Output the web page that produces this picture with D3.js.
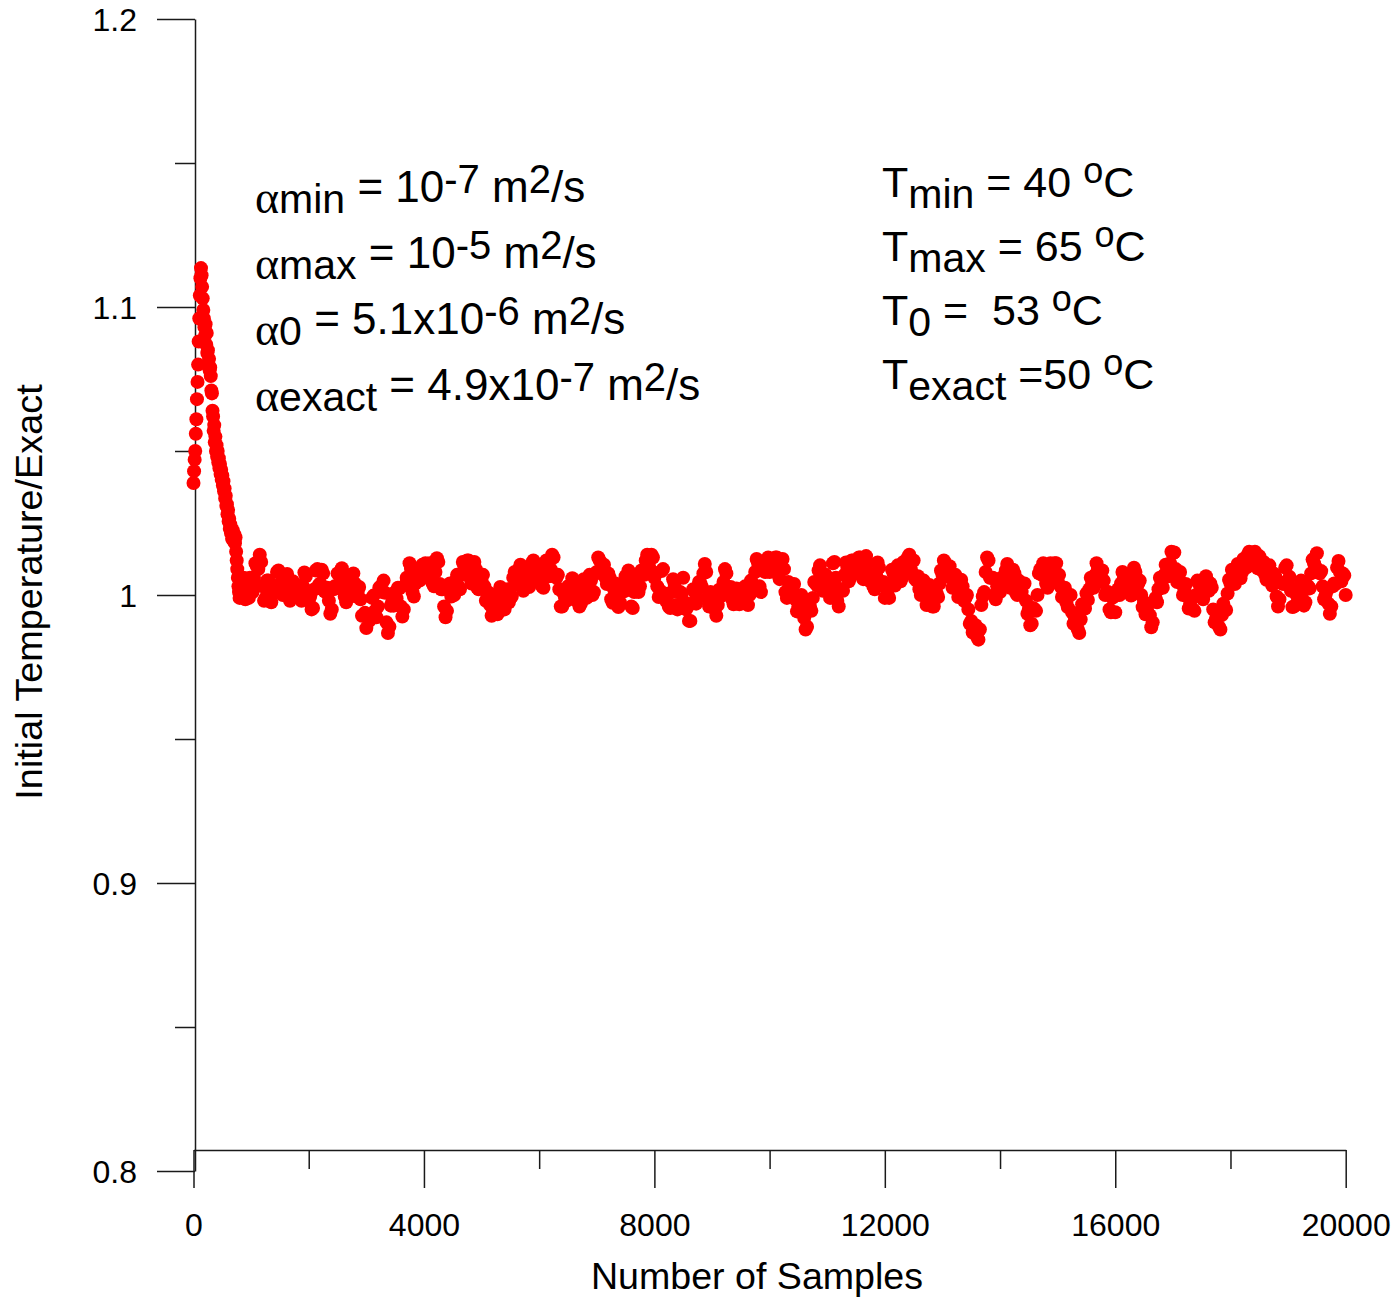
<!DOCTYPE html>
<html>
<head>
<meta charset="utf-8">
<script src="https://cdn.jsdelivr.net/npm/d3@7"></script>
<style>
  body { margin: 0; background: #fff; }
  text { font-family: "Liberation Sans", Arial, sans-serif; fill: #000; }
</style>
</head>
<body>
<svg id="chart" width="1399" height="1299"></svg>
<script>
// Sample spacing: dense recording during the first 1000 samples, then every 25 samples
const earlyStep = 10;
const lateStart = 1000;
const lateStep = 25;

// Initial temperature / exact, samples 0 .. 990
const earlyValues = [
  1.0389,1.0430,1.0470,1.0500,1.0560,1.0610,1.0680,1.0740,1.0800,1.0880,
  1.0960,1.1040,1.1100,1.1135,1.1110,1.1070,1.1030,1.0990,1.0960,1.0930,
  1.0900,1.0940,1.0870,1.0910,1.0840,1.0850,1.0800,1.0820,1.0780,1.0790,
  1.0760,1.0710,1.0700,1.0640,1.0620,1.0570,1.0590,1.0530,1.0550,1.0500,
  1.0520,1.0480,1.0500,1.0460,1.0475,1.0440,1.0455,1.0420,1.0435,1.0400,
  1.0415,1.0380,1.0395,1.0360,1.0370,1.0335,1.0345,1.0310,1.0315,1.0280,
  1.0295,1.0255,1.0265,1.0230,1.0245,1.0215,1.0230,1.0195,1.0225,1.0190,
  1.0190,1.0210,1.0180,1.0200,1.0150,1.0120,1.0090,1.0060,1.0030,1.0010,
  0.9990,1.0020,1.0050,1.0030,1.0010,1.0040,1.0020,1.0060,1.0030,1.0000,
  0.9985,1.0010,1.0040,1.0020,1.0050,1.0010,0.9990,1.0030,1.0060,1.0020
];

// Initial temperature / exact, samples 1000 .. 20000
const lateValues = [
  1.0020,1.0010,1.0060,1.0110,1.0100,1.0090,1.0140,1.0115,1.0030,0.9980,0.9990,1.0050,1.0050,0.9985,0.9975,1.0025,1.0010,1.0015,1.0080,1.0085,
  1.0030,1.0045,1.0000,1.0005,1.0065,1.0073,1.0020,0.9980,0.9995,1.0048,1.0040,0.9995,1.0010,1.0030,0.9990,0.9980,1.0030,1.0078,1.0065,0.9995,
  0.9980,0.9995,0.9950,0.9955,1.0020,1.0085,1.0090,1.0035,1.0040,1.0088,1.0075,1.0013,1.0010,1.0025,0.9980,0.9935,0.9950,1.0020,1.0030,1.0023,
  1.0075,1.0033,1.0050,1.0093,1.0075,0.9995,0.9975,1.0023,1.0010,1.0000,1.0050,1.0075,1.0040,0.9995,1.0010,1.0028,0.9985,0.9928,0.9930,0.9938,
  0.9885,0.9928,0.9910,0.9920,0.9990,0.9998,0.9945,0.9923,0.9960,1.0025,1.0030,1.0010,1.0050,1.0008,0.9905,0.9868,0.9890,0.9963,0.9975,0.9963,
  1.0010,0.9988,1.0025,1.0023,0.9960,0.9925,0.9950,1.0035,1.0060,1.0055,1.0110,1.0090,1.0010,0.9995,1.0040,1.0085,1.0070,1.0050,1.0090,1.0105,
  1.0060,1.0110,1.0100,1.0075,1.0110,1.0105,1.0040,1.0030,1.0080,1.0128,1.0115,1.0038,1.0020,1.0020,0.9960,0.9923,0.9945,1.0023,1.0040,0.9995,
  1.0010,1.0000,1.0050,1.0070,1.0030,1.0020,1.0070,1.0115,1.0100,1.0080,1.0120,1.0120,1.0060,1.0040,1.0080,1.0115,1.0090,1.0025,1.0020,1.0065,
  1.0050,1.0070,1.0030,0.9980,0.9990,1.0008,0.9965,0.9928,0.9950,0.9975,0.9940,0.9933,0.9985,1.0028,1.0010,0.9950,0.9950,1.0015,1.0020,0.9975,
  0.9990,0.9995,1.0060,1.0080,1.0040,1.0035,1.0090,1.0105,1.0060,1.0015,1.0030,1.0083,1.0075,1.0028,1.0040,1.0110,1.0120,1.0070,1.0080,1.0103,
  1.0065,1.0078,1.0030,1.0025,1.0080,1.0120,1.0100,1.0065,1.0090,1.0140,1.0130,1.0065,1.0060,1.0070,1.0020,0.9960,0.9960,1.0005,0.9990,0.9980,
  1.0030,0.9993,1.0015,1.0058,1.0040,0.9983,0.9985,1.0003,0.9960,0.9970,1.0040,1.0055,1.0010,0.9990,1.0030,1.0070,1.0050,1.0000,1.0010,1.0075,
  1.0080,1.0130,1.0120,1.0075,1.0090,1.0105,1.0060,1.0038,1.0075,1.0060,0.9985,0.9973,1.0020,1.0040,1.0000,0.9958,0.9975,1.0028,1.0020,1.0013,
  1.0065,1.0045,1.0085,1.0053,0.9960,0.9955,1.0010,1.0060,1.0050,1.0010,1.0030,1.0085,1.0080,1.0070,1.0120,1.0140,1.0100,1.0090,1.0140,1.0130,
  1.0060,1.0075,1.0030,0.9993,1.0015,1.0083,1.0090,1.0005,0.9980,1.0000,0.9960,0.9955,1.0010,1.0055,1.0040,0.9965,0.9950,1.0010,1.0010,1.0005,
  1.0060,0.9975,0.9950,0.9960,0.9910,0.9910,0.9970,1.0020,1.0010,0.9970,0.9990,1.0045,1.0040,1.0028,1.0075,1.0108,1.0080,0.9990,0.9960,1.0010,
  1.0000,1.0005,0.9950,0.9928,0.9965,1.0018,1.0010,0.9998,1.0045,1.0090,1.0075,1.0013,1.0010,1.0028,0.9985,0.9968,1.0010,1.0023,0.9975,0.9968,
  1.0020,0.9985,1.0010,1.0030,0.9990,0.9965,1.0000,1.0050,1.0040,1.0030,1.0080,1.0125,1.0110,1.0030,1.0010,1.0085,1.0100,1.0080,1.0120,1.0130,
  1.0080,1.0125,1.0110,1.0090,1.0130,1.0130,1.0070,1.0055,1.0100,1.0125,1.0090,1.0010,0.9990,1.0045,1.0040,1.0005,1.0030,1.0038,0.9985,0.9943,
  0.9960,0.9950,1.0000,0.9990,0.9920,0.9880,0.9890,0.9955,0.9960,0.9945,0.9990,1.0045,1.0040,1.0033,1.0085,1.0103,1.0060,1.0015,1.0030,1.0070,
  1.0050,1.0050,0.9990,1.0020,1.0110,1.0115,1.0060,0.9980,0.9960,1.0020,1.0020,1.0015,1.0070,1.0113,1.0095,1.0048,1.0060,1.0120,1.0120,1.0075,
  1.0090,1.0080,1.0130,1.0130,1.0070,1.0055,1.0100,1.0135,1.0110,1.0050,1.0050,1.0070,1.0030,1.0020,1.0070,1.0113,1.0095,1.0038,1.0040,1.0045,
  0.9990,1.0025,1.0000,0.9990,1.0040,1.0088,1.0075,1.0033,1.0050,1.0103,1.0095,1.0048,1.0060,1.0115,1.0110,1.0090,1.0130,1.0140,1.0090,1.0075,
  1.0120,1.0055,1.0050,1.0065,1.0020,1.0000,1.0040,1.0050,1.0000,0.9965,0.9990,1.0035,1.0020,0.9960,0.9960,1.0013,1.0005,0.9993,1.0040,1.0085,
  1.0070,1.0120,1.0110,1.0065,1.0080,1.0100,1.0060,1.0025,1.0050,1.0070,1.0030,0.9993,1.0015,1.0053,1.0030,0.9980,0.9990,1.0000,0.9950,0.9900,
  0.9910,0.9870,0.9880,0.9895,0.9855,0.9845,0.9880,0.9965,0.9995,1.0010,1.0080,1.0130,1.0120,1.0060,1.0060,1.0060,1.0000,0.9985,1.0030,1.0050,
  1.0010,1.0060,1.0050,1.0038,1.0085,1.0108,1.0070,1.0025,1.0040,1.0088,1.0075,1.0008,1.0000,1.0050,1.0040,1.0010,1.0040,1.0040,0.9980,0.9935,
  0.9950,0.9895,0.9900,0.9955,0.9950,0.9945,1.0000,1.0075,1.0090,1.0070,1.0110,1.0105,1.0040,1.0025,1.0070,1.0110,1.0090,1.0070,1.0110,1.0110,
  1.0050,1.0070,1.0030,0.9993,1.0015,1.0025,0.9975,0.9958,1.0000,1.0000,0.9940,0.9900,0.9920,0.9930,0.9880,0.9868,0.9915,0.9968,0.9960,0.9953,
  1.0005,0.9983,1.0020,1.0060,1.0040,1.0025,1.0070,1.0110,1.0090,1.0045,1.0060,1.0085,1.0050,1.0000,1.0010,1.0010,0.9950,0.9940,0.9990,0.9995,
  0.9940,1.0010,1.0020,1.0000,1.0040,1.0080,1.0060,1.0015,1.0030,1.0048,1.0005,0.9998,1.0050,1.0095,1.0080,1.0030,1.0040,1.0050,1.0000,0.9958,
  0.9975,0.9933,0.9950,0.9970,0.9930,0.9888,0.9905,0.9978,0.9990,0.9975,1.0020,1.0060,1.0040,1.0025,1.0070,1.0105,1.0080,1.0065,1.0110,1.0150,
  1.0145,1.0148,1.0090,1.0045,1.0060,1.0080,1.0040,1.0000,1.0020,1.0038,0.9995,0.9953,0.9970,0.9990,0.9950,0.9945,1.0000,1.0050,1.0040,0.9995,
  1.0010,0.9985,1.0020,1.0065,1.0050,1.0015,1.0040,1.0025,0.9950,0.9905,0.9920,0.9935,0.9890,0.9880,0.9930,0.9970,0.9950,0.9948,1.0005,1.0053,
  1.0040,1.0088,1.0075,1.0038,1.0060,1.0108,1.0095,1.0058,1.0080,1.0125,1.0110,1.0095,1.0140,1.0150,1.0120,1.0103,1.0145,1.0150,1.0110,1.0093,
  1.0135,1.0088,1.0100,1.0115,1.0070,1.0053,1.0095,1.0103,1.0050,1.0033,1.0075,1.0065,0.9995,0.9960,0.9985,1.0043,1.0040,1.0038,1.0095,1.0103,
  1.0050,1.0063,1.0015,0.9958,0.9960,1.0010,1.0000,0.9985,1.0030,1.0050,1.0010,0.9963,0.9975,1.0033,1.0030,1.0023,1.0075,1.0123,1.0110,1.0098,
  1.0145,1.0080,1.0075,1.0083,1.0030,0.9985,1.0000,1.0015,0.9970,0.9935,0.9960,1.0030,1.0040,1.0038,1.0095,1.0118,1.0080,1.0048,1.0075,1.0068,
  1.0000
];

// Axis ticks and labels
const xMajorTicks = [0, 4000, 8000, 12000, 16000, 20000];
const xMinorTicks = [2000, 6000, 10000, 14000, 18000];
const xTickLabels = ["0", "4000", "8000", "12000", "16000", "20000"];
const yMajorTicks = [0.8, 0.9, 1.0, 1.1, 1.2];
const yMinorTicks = [0.85, 0.95, 1.05, 1.15];
const yTickLabels = ["0.8", "0.9", "1", "1.1", "1.2"];

const xTitle = "Number of Samples";
const yTitle = "Initial Temperature/Exact";

// Annotation text, split into [text, role] runs
const alphaLines = [
  [["α", "sym"], ["min", "sub"], [" = 10", "n"], ["-7", "sup"], [" m", "n"], ["2", "sup"], ["/s", "n"]],
  [["α", "sym"], ["max", "sub"], [" = 10", "n"], ["-5", "sup"], [" m", "n"], ["2", "sup"], ["/s", "n"]],
  [["α", "sym"], ["0", "sub"], [" = 5.1x10", "n"], ["-6", "sup"], [" m", "n"], ["2", "sup"], ["/s", "n"]],
  [["α", "sym"], ["exact", "sub"], [" = 4.9x10", "n"], ["-7", "sup"], [" m", "n"], ["2", "sup"], ["/s", "n"]]
];
const tempLines = [
  [["T", "n"], ["min", "sub"], [" = 40 ", "n"], ["o", "sup"], ["C", "n"]],
  [["T", "n"], ["max", "sub"], [" = 65 ", "n"], ["o", "sup"], ["C", "n"]],
  [["T", "n"], ["0", "sub"], [" =  53 ", "n"], ["o", "sup"], ["C", "n"]],
  [["T", "n"], ["exact", "sub"], [" =50 ", "n"], ["o", "sup"], ["C", "n"]]
];

// Assemble (sample, value) points
const points = [];
earlyValues.forEach((v, i) => points.push({ s: i * earlyStep, v }));
lateValues.forEach((v, i) => points.push({ s: lateStart + i * lateStep, v }));

const svg = d3.select("#chart");
const axisColor = "#1a1a1a";

const x = d3.scaleLinear().domain([0, 20000]).range([193.5, 1345.7]);
const y = d3.scaleLinear().domain([0.8, 1.2]).range([1171, 19]);

const yAxisX = 195;
const xAxisY = 1150;

function styleAxis(g) {
  g.selectAll("path, line").attr("stroke", axisColor).attr("stroke-width", 1.5);
}

// Y axis: major ticks with labels, then minor ticks
const yAxisG = svg.append("g")
  .attr("transform", `translate(${yAxisX},0)`)
  .call(d3.axisLeft(y).tickValues(yMajorTicks).tickSize(38).tickSizeOuter(0)
    .tickPadding(20).tickFormat((d, i) => yTickLabels[i]));
yAxisG.selectAll("text").attr("font-size", 32).attr("dy", "0.37em")
  .attr("font-family", "Liberation Sans, Arial, sans-serif").attr("fill", "#000");
styleAxis(yAxisG);

const yMinorG = svg.append("g")
  .attr("transform", `translate(${yAxisX},0)`)
  .call(d3.axisLeft(y).tickValues(yMinorTicks).tickSize(20).tickFormat(""));
yMinorG.select(".domain").remove();
styleAxis(yMinorG);

// X axis: major ticks with labels, then minor ticks
const xAxisG = svg.append("g")
  .attr("transform", `translate(0,${xAxisY})`)
  .call(d3.axisBottom(x).tickValues(xMajorTicks).tickSize(38).tickSizeOuter(0)
    .tickPadding(25).tickFormat((d, i) => xTickLabels[i]));
xAxisG.selectAll("text").attr("font-size", 32)
  .attr("font-family", "Liberation Sans, Arial, sans-serif").attr("fill", "#000");
styleAxis(xAxisG);

const xMinorG = svg.append("g")
  .attr("transform", `translate(0,${xAxisY})`)
  .call(d3.axisBottom(x).tickValues(xMinorTicks).tickSize(19).tickFormat(""));
xMinorG.select(".domain").remove();
styleAxis(xMinorG);

// Axis titles
svg.append("text")
  .attr("x", 757).attr("y", 1289)
  .attr("text-anchor", "middle")
  .attr("font-size", 37.6)
  .text(xTitle);

svg.append("text")
  .attr("transform", "translate(42,592) rotate(-90)")
  .attr("text-anchor", "middle")
  .attr("font-size", 37.8)
  .text(yTitle);

// Data markers
svg.append("g")
  .selectAll("circle")
  .data(points)
  .join("circle")
  .attr("cx", d => x(d.s))
  .attr("cy", d => y(d.v))
  .attr("r", 7)
  .attr("fill", "#ff0000");

// Rich-text annotation blocks
function drawRich(lines, x0, baselines, cfg) {
  const g = svg.append("g");
  lines.forEach((runs, i) => {
    const t = g.append("text")
      .attr("x", x0).attr("y", baselines[i])
      .attr("font-size", cfg.main)
      .style("white-space", "pre");
    let prev = 0;
    runs.forEach(([str, role]) => {
      const shift = (role === "sub" || role === "sym") ? cfg.subShift
        : role === "sup" ? cfg.supShift : 0;
      const ts = t.append("tspan").attr("dy", shift - prev).text(str);
      prev = shift;
      if (role === "sym") ts.attr("font-family", "Liberation Serif, serif").attr("font-size", cfg.sym);
      else if (role === "sub") ts.attr("font-size", cfg.sub);
      else if (role === "sup") ts.attr("font-size", cfg.sup);
    });
  });
}

drawRich(alphaLines, 255, [202, 268, 334, 400],
  { main: 44, sub: 41, sup: 40, sym: 46, subShift: 11, supShift: -9 });
drawRich(tempLines, 882, [197, 261, 325, 389],
  { main: 43, sub: 41, sup: 36, subShift: 11, supShift: -14 });
</script>
</body>
</html>
